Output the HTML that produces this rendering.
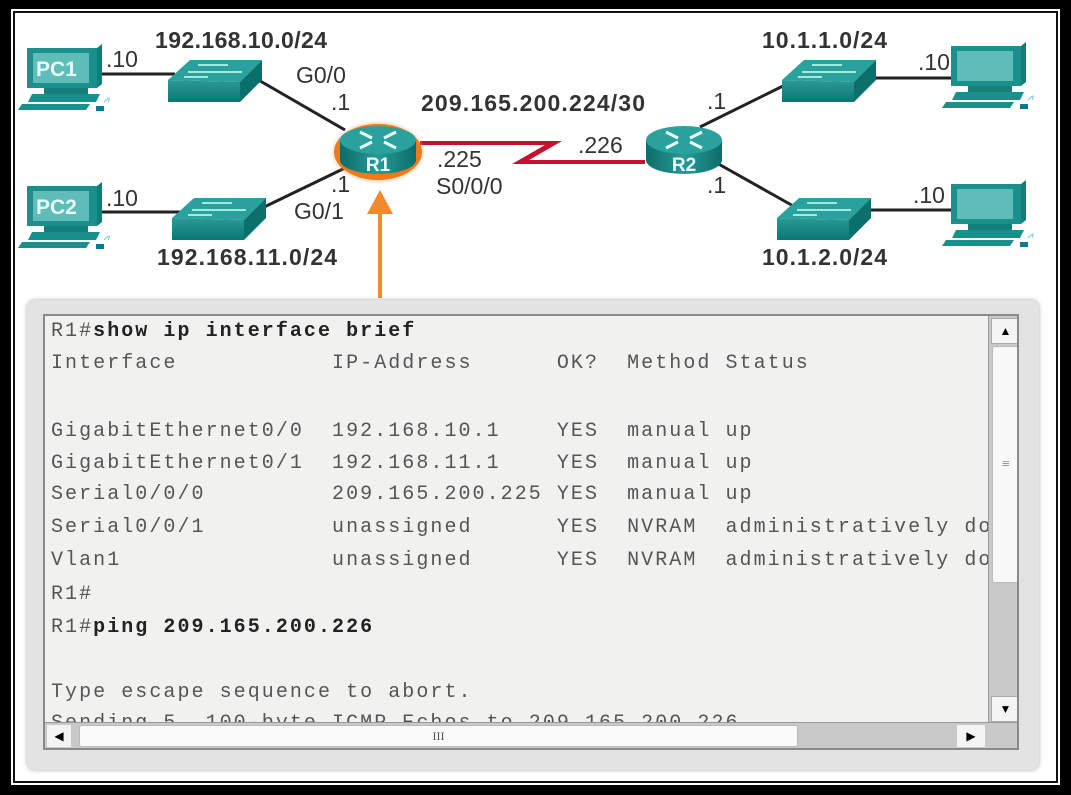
<!DOCTYPE html>
<html><head><meta charset="utf-8"><style>
html,body{margin:0;padding:0;background:#000;}
#wrap{position:relative;width:1071px;height:795px;background:#000;overflow:hidden;}
#frame{position:absolute;left:11px;top:9px;width:1049px;height:776px;background:#fff;}
#frame:after{content:"";position:absolute;left:2px;top:2px;right:2px;bottom:2px;border:2px solid #111;}
#inner{position:absolute;left:17px;top:15px;width:1037px;height:764px;background:#fff;}
svg{position:absolute;left:0;top:0;}
.t{font-family:"Liberation Sans",Arial,sans-serif;font-size:23px;fill:#333;}
.tb{font-family:"Liberation Sans",Arial,sans-serif;font-size:23px;font-weight:bold;fill:#333;}
#panel{position:absolute;left:27px;top:300px;width:1012px;height:470px;background:#e3e3e3;border-radius:8px;box-shadow:0 0 4px #aaa;}
#term{position:absolute;left:43px;top:314px;width:976px;height:436px;background:#f1f1f0;border:2px solid #8a8a8a;box-sizing:border-box;overflow:hidden;}
#txt{position:absolute;left:6px;top:0;font-family:"Liberation Mono",monospace;font-size:20px;letter-spacing:2.05px;color:#555;white-space:pre;line-height:20px;}
#txt div{position:absolute;left:0;}
#txt b{color:#222;}
#vs{position:absolute;left:943px;top:0;width:31px;height:406px;background:#c9c9c9;border-left:1px solid #999;}
#hs{position:absolute;left:0;top:406px;width:974px;height:28px;background:#c9c9c9;border-top:1px solid #999;}
</style></head><body><div id="wrap">
<div id="frame"></div>
<div id="inner"></div>
<svg width="1071" height="300" viewBox="0 0 1071 300">
<defs>
<linearGradient id="sw" x1="0" x2="0" y1="0" y2="1"><stop offset="0" stop-color="#2a9a96"/><stop offset="1" stop-color="#0b7773"/></linearGradient>
<linearGradient id="rt" x1="0" x2="1" y1="0" y2="0"><stop offset="0" stop-color="#0c6d6a"/><stop offset=".5" stop-color="#279a96"/><stop offset="1" stop-color="#0c6d6a"/></linearGradient>
<radialGradient id="glow"><stop offset=".7" stop-color="#f07a1a"/><stop offset="1" stop-color="#f7b27a" stop-opacity="0"/></radialGradient>
<g id="pc">
<path d="M3 4 L73 4 L73 44 L3 44 Z" fill="#1b8f8b"/>
<rect x="9" y="9" width="56" height="30" fill="#5fbcb7"/>
<path d="M73 4 L78 0 L78 40 L73 44Z" fill="#127d79"/>
<rect x="20" y="44" width="44" height="6" fill="#147f7b"/>
<path d="M8 50 L76 50 L72 58 L4 58Z" fill="#1b8f8b"/>
<path d="M-2 60 L66 60 L62 66 L-6 66Z" fill="#1b8f8b"/>
<path d="M80 58 q8 -8 4 0" stroke="#7cc" fill="none"/>
<rect x="72" y="62" width="8" height="5" fill="#179"/>
</g>
<g id="sw1">
<path d="M0 20 L22 0 L94 0 L72 22 Z" fill="#2aa19c"/>
<path d="M0 20 L72 22 L72 42 L0 42Z" fill="url(#sw)"/>
<path d="M72 22 L94 0 L94 20 L72 42Z" fill="#0b6f6b"/>
<path d="M30 5 h30 M20 12 h30 M44 12 h30 M16 17 h24" stroke="#cfe" stroke-width="1.5"/>
</g>
<g id="rtr">
<path d="M-38 -8 L-38 12 A38 14 0 0 0 38 12 L38 -8Z" fill="url(#rt)"/>
<ellipse cx="0" cy="-8" rx="38" ry="14" fill="#2aa19c"/>
<path d="M-18 -16 L-6 -10 M18 -16 L6 -10 M-18 0 L-6 -6 M18 0 L6 -6" stroke="#e8ffff" stroke-width="3"/>
</g>
</defs>
<g stroke="#222" stroke-width="3">
<line x1="98" y1="74" x2="175" y2="74"/>
<line x1="98" y1="212" x2="180" y2="212"/>
<line x1="255" y1="78" x2="345" y2="130"/>
<line x1="258" y1="210" x2="345" y2="168"/>
<line x1="700" y1="127" x2="785" y2="85"/>
<line x1="715" y1="162" x2="795" y2="207"/>
<line x1="870" y1="78" x2="960" y2="78"/>
<line x1="865" y1="210" x2="960" y2="210"/>
</g>
<polygon points="420,141 562,141 529,160 645,160 645,164 512,164 545,145 420,145" fill="#c8102e"/>
<use href="#pc" x="24" y="44"/>
<use href="#pc" x="24" y="182"/>
<use href="#pc" x="948" y="42"/>
<use href="#pc" x="948" y="180"/>
<use href="#sw1" x="168" y="60"/>
<use href="#sw1" x="172" y="198"/>
<use href="#sw1" x="782" y="60"/>
<use href="#sw1" x="777" y="198"/>
<ellipse cx="378" cy="152" rx="48" ry="32" fill="url(#glow)"/>
<ellipse cx="378" cy="152" rx="44" ry="28" fill="#f07a1a"/>
<use href="#rtr" x="378" y="148"/>
<use href="#rtr" x="684" y="148"/>
<text x="378" y="171" text-anchor="middle" class="tb" style="fill:#e8ffff;font-size:19px">R1</text>
<text x="684" y="171" text-anchor="middle" class="tb" style="fill:#e8ffff;font-size:19px">R2</text>
<text x="36" y="76" class="tb" style="fill:#e8ffff;font-size:21px">PC1</text>
<text x="36" y="214" class="tb" style="fill:#e8ffff;font-size:21px">PC2</text>
<line x1="380" y1="298" x2="380" y2="210" stroke="#f08a2a" stroke-width="4"/>
<polygon points="380,190 367,214 393,214" fill="#f08a2a"/>
<text x="155" y="48" class="tb" textLength="172">192.168.10.0/24</text>
<text x="157" y="265" class="tb" textLength="180">192.168.11.0/24</text>
<text x="106" y="67" class="t">.10</text>
<text x="106" y="206" class="t">.10</text>
<text x="296" y="83" class="t">G0/0</text>
<text x="331" y="110" class="t">.1</text>
<text x="331" y="192" class="t">.1</text>
<text x="294" y="219" class="t">G0/1</text>
<text x="421" y="111" class="tb" textLength="224">209.165.200.224/30</text>
<text x="437" y="167" class="t">.225</text>
<text x="436" y="194" class="t">S0/0/0</text>
<text x="578" y="153" class="t">.226</text>
<text x="707" y="109" class="t">.1</text>
<text x="707" y="193" class="t">.1</text>
<text x="762" y="48" class="tb" textLength="125">10.1.1.0/24</text>
<text x="762" y="265" class="tb" textLength="125">10.1.2.0/24</text>
<text x="918" y="70" class="t">.10</text>
<text x="913" y="203" class="t">.10</text>
</svg>
<div id="panel"></div>
<div id="term">
<div id="txt">
<div style="top:6px">R1#<b>show ip interface brief</b></div>
<div style="top:38px">Interface           IP-Address      OK?  Method Status</div>
<div style="top:106px">GigabitEthernet0/0  192.168.10.1    YES  manual up</div>
<div style="top:138px">GigabitEthernet0/1  192.168.11.1    YES  manual up</div>
<div style="top:169px">Serial0/0/0         209.165.200.225 YES  manual up</div>
<div style="top:202px">Serial0/0/1         unassigned      YES  NVRAM  administratively down</div>
<div style="top:235px">Vlan1               unassigned      YES  NVRAM  administratively down</div>
<div style="top:269px">R1#</div>
<div style="top:302px">R1#<b>ping 209.165.200.226</b></div>
<div style="top:367px">Type escape sequence to abort.</div>
<div style="top:398px">Sending 5, 100-byte ICMP Echos to 209.165.200.226</div>
</div>
<div id="vs">
<div style="position:absolute;left:2px;top:2px;width:27px;height:24px;background:#f4f4f4;border:1px solid #aaa;text-align:center;font-size:12px;line-height:24px">▲</div>
<div style="position:absolute;left:3px;top:30px;width:26px;height:235px;background:#f8f8f8;border:1px solid #bbb;border-radius:3px;text-align:center;line-height:235px;color:#777;font-size:14px">≡</div>
<div style="position:absolute;left:2px;top:380px;width:27px;height:24px;background:#f4f4f4;border:1px solid #aaa;text-align:center;font-size:12px;line-height:24px">▼</div>
</div>
<div id="hs">
<div style="position:absolute;left:2px;top:2px;width:24px;height:22px;background:#f4f4f4;text-align:center;font-size:12px;line-height:22px">◀</div>
<div style="position:absolute;left:34px;top:2px;width:717px;height:20px;background:#fafafa;border:1px solid #bbb;border-radius:3px;text-align:center;font-size:12px;color:#555;line-height:20px">III</div>
<div style="position:absolute;left:912px;top:2px;width:28px;height:22px;background:#f4f4f4;text-align:center;font-size:12px;line-height:22px">▶</div>
</div>
</div>
</div></body></html>
